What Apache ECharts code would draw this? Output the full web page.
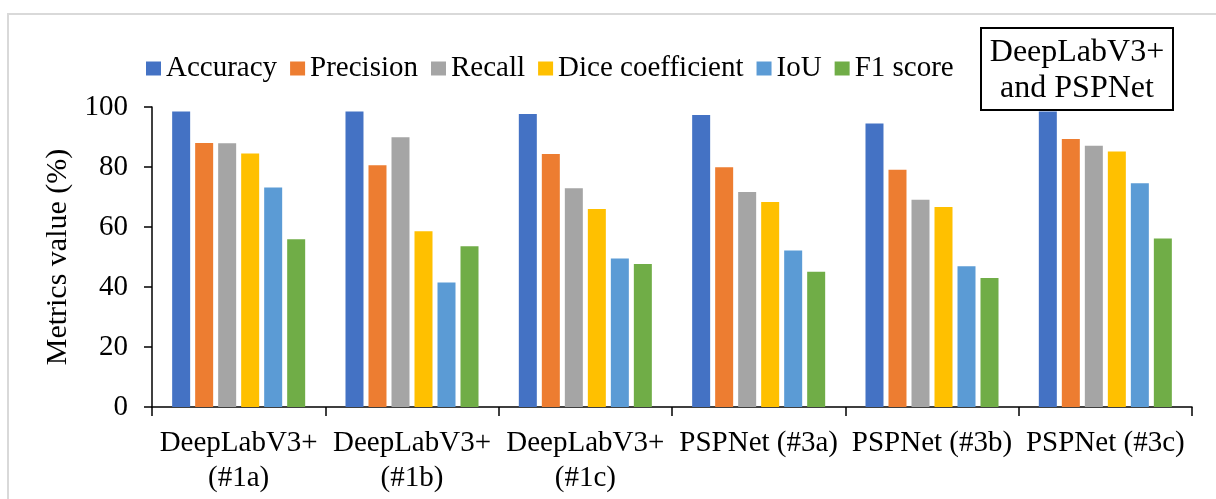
<!DOCTYPE html>
<html>
<head>
<meta charset="utf-8">
<script src="https://cdn.jsdelivr.net/npm/echarts@6/dist/echarts.min.js"></script>
<style>
  html, body { margin: 0; padding: 0; background: #ffffff; }
  #chart { width: 1216px; height: 499px; }
</style>
</head>
<body>
<div id="chart"></div>
<script>
// Segmentation metrics per model configuration (%)
const categories = [
  'DeepLabV3+\n(#1a)', 'DeepLabV3+\n(#1b)', 'DeepLabV3+\n(#1c)',
  'PSPNet (#3a)', 'PSPNet (#3b)', 'PSPNet (#3c)'
];
const seriesNames = ['Accuracy', 'Precision', 'Recall', 'Dice coefficient', 'IoU', 'F1 score'];
const accuracy  = [98.5, 98.5, 97.7, 97.3, 94.5, 98.5];
const precision = [88.0, 80.6, 84.3, 79.9, 79.1, 89.3];
const recall    = [87.9, 89.9, 72.9, 71.7, 69.1, 87.1];
const dice      = [84.5, 58.6, 66.0, 68.3, 66.7, 85.2];
const iou       = [73.2, 41.5, 49.5, 52.2, 46.9, 74.6];
const f1        = [55.9, 53.6, 47.7, 45.1, 43.0, 56.2];
const yTicks    = [0, 20, 40, 60, 80, 100];

const colors = ['#4472C4', '#ED7D31', '#A5A5A5', '#FFC000', '#5B9BD5', '#70AD47'];
const values = [accuracy, precision, recall, dice, iou, f1];
const FONT = '"Liberation Serif", "Times New Roman", serif';

const chart = echarts.init(document.getElementById('chart'), null, { renderer: 'canvas' });

chart.setOption({
  animation: false,
  backgroundColor: '#ffffff',
  color: colors,
  textStyle: { fontFamily: FONT, color: '#000' },
  grid: { left: 152, right: 24, top: 107, bottom: 92, containLabel: false },
  legend: {
    data: seriesNames,
    left: 146,
    top: 54,
    padding: 0,
    itemWidth: 15,
    itemHeight: 14,
    itemGap: 13,
    icon: 'rect',
    textStyle: { fontFamily: FONT, fontSize: 29, color: '#000', padding: [0, 0, 0, 0] }
  },
  xAxis: {
    type: 'category',
    data: categories,
    axisLine: { lineStyle: { color: '#000', width: 1.5 } },
    axisTick: { show: true, length: 9, alignWithLabel: false, lineStyle: { color: '#000', width: 1.5 } },
    axisLabel: {
      interval: 0, margin: 19, fontFamily: FONT, fontSize: 29, color: '#000', lineHeight: 35
    },
    splitLine: { show: false }
  },
  yAxis: {
    type: 'value',
    min: yTicks[0],
    max: yTicks[yTicks.length - 1],
    interval: yTicks[1] - yTicks[0],
    name: 'Metrics value (%)',
    nameLocation: 'middle',
    nameGap: 68,
    nameTextStyle: { fontFamily: FONT, fontSize: 30, color: '#000' },
    axisLine: { show: true, lineStyle: { color: '#000', width: 1.5 } },
    axisTick: { show: true, length: 8, lineStyle: { color: '#000', width: 1.5 } },
    axisLabel: { margin: 24, fontFamily: FONT, fontSize: 29, color: '#000' },
    splitLine: { show: false }
  },
  series: seriesNames.map((name, i) => ({
    name: name,
    type: 'bar',
    data: values[i],
    barWidth: 18,
    barGap: '27.8%',
    itemStyle: { color: colors[i] }
  })),
  graphic: [
    {
      type: 'rect',
      z: -10,
      silent: true,
      shape: { x: 8, y: 14, width: 1400, height: 700 },
      style: { fill: 'none', stroke: '#d9d9d9', lineWidth: 2 }
    },
    {
      type: 'group',
      left: 980,
      top: 27,
      z: 100,
      children: [
        {
          type: 'rect',
          shape: { x: 0, y: 0, width: 192, height: 82 },
          style: { fill: '#ffffff', stroke: '#000', lineWidth: 2 }
        },
        {
          type: 'text',
          x: 96,
          y: 43,
          style: {
            text: 'DeepLabV3+\nand PSPNet',
            fontFamily: FONT,
            fontSize: 32,
            lineHeight: 36,
            fill: '#000',
            align: 'center',
            verticalAlign: 'middle'
          }
        }
      ]
    }
  ]
});
</script>
</body>
</html>
